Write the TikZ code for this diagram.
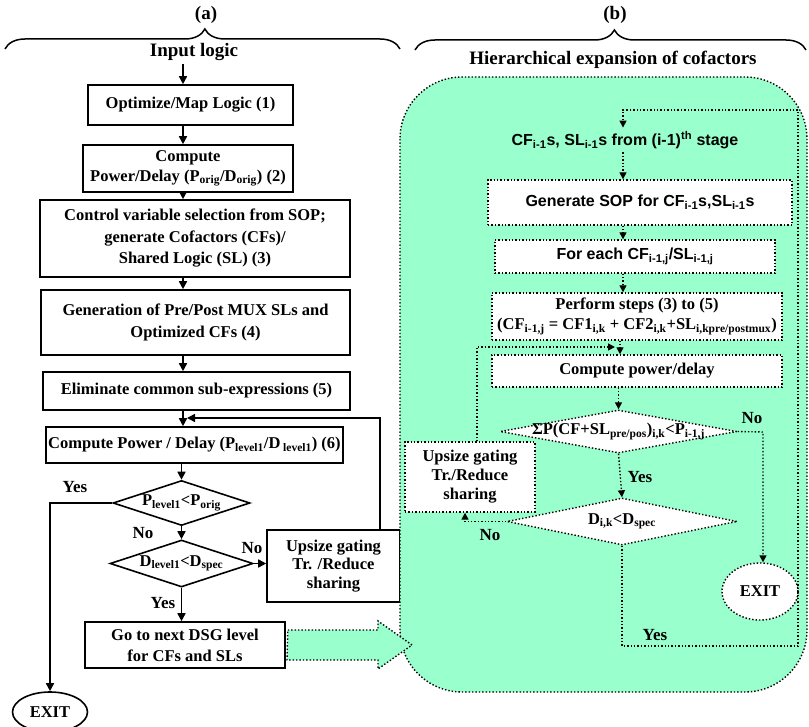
\documentclass[tikz,border=0pt]{standalone}
\usepackage{fontspec}
\setmainfont{Liberation Serif}
\newfontfamily\arialf{Liberation Sans}
\usetikzlibrary{arrows.meta,shapes.geometric,decorations.pathreplacing}
\definecolor{mint}{RGB}{153,255,204}
\newcommand{\sbs}[1]{\textsubscript{#1}}
\newcommand{\sps}[1]{\textsuperscript{#1}}
\begin{document}
\begin{tikzpicture}[x=1pt,y=-1pt,
  every node/.style={font=\fontsize{16.5}{20}\selectfont\bfseries},
  big/.style={font=\fontsize{19}{22}\selectfont\bfseries},
  sansf/.style={font=\fontsize{16}{20}\selectfont\bfseries\arialf},
  lbl/.style={font=\fontsize{17}{20}\selectfont\bfseries},
  sbox/.style={draw, line width=1.6pt, align=center, inner sep=0pt},
  sdia/.style={draw, diamond, line width=1.6pt, inner sep=0pt},
  sarr/.style={line width=1.6pt, -{Triangle[width=8pt,length=8pt]}},
  sline/.style={line width=1.6pt},
  dbox/.style={draw, fill=white, dotted, line width=1.4pt, align=center, inner sep=0pt},
  ddia/.style={draw, diamond, fill=white, dotted, line width=1.4pt, inner sep=0pt},
  darr/.style={dotted, line width=1.4pt, -{Triangle[width=7pt,length=7pt]}},
  dline/.style={dotted, line width=1.4pt},
  bracest/.style={line width=1.5pt, decorate, decoration={brace, amplitude=20pt}},
]
\useasboundingbox (0,0) rectangle (809,727);

% ---------------- panel (a) ----------------
\node[big] (la) at (206,15) {(a)};
\draw[bracest, decoration={aspect=0.506}] (5,49) -- (400,49);
\node[big] (ta) at (194,52) {Input logic};
\coordinate (ax) at (183,0);

\node[sbox, minimum width=205pt, minimum height=40pt] (b1) at (190.5,105) {Optimize/Map Logic (1)};
\node[sbox, minimum width=210pt, minimum height=47pt] (b2) at (188,168.5) {Compute\\ Power/Delay (P\sbs{orig}/D\sbs{orig}) (2)};
\node[sbox, minimum width=310pt, minimum height=77pt, font=\fontsize{16.5}{21.5}\selectfont\bfseries] (b3) at (195,238.5) {Control variable selection from SOP;\\ generate Cofactors (CFs)/\\ Shared Logic (SL) (3)};
\node[sbox, minimum width=309pt, minimum height=65pt, font=\fontsize{16.5}{21.5}\selectfont\bfseries] (b4) at (195.5,322.5) {Generation of Pre/Post MUX SLs and\\ Optimized CFs (4)};
\node[sbox, minimum width=307pt, minimum height=38pt] (b5) at (196.5,391) {Eliminate common sub-expressions (5)};
\node[sbox, minimum width=297pt, minimum height=36pt] (b6) at (194.5,445) {Compute Power / Delay (P\sbs{level1}/D\,\sbs{level1}) (6)};
\node[sdia, minimum width=137pt, minimum height=45pt] (d1) at (181.5,503) {\makebox[0pt]{P\sbs{level1}<P\sbs{orig}}};
\node[sdia, minimum width=143pt, minimum height=47pt] (d2) at (181.5,563.5) {\makebox[0pt]{D\sbs{level1}<D\sbs{spec}}};
\node[sbox, minimum width=133pt, minimum height=72pt, font=\fontsize{16.5}{18.5}\selectfont\bfseries] (upa) at (333.5,566) {Upsize gating\\ Tr. /Reduce\\ sharing};
\node[sbox, minimum width=200pt, minimum height=46pt, font=\fontsize{16.5}{21}\selectfont\bfseries] (go) at (185,645) {Go to next DSG level\\ for CFs and SLs};
\node[draw, ellipse, line width=1.6pt, minimum width=75pt, minimum height=40pt, inner sep=0pt] (exa) at (50,712) {EXIT};

\node[lbl] (ya1) at (75,487) {Yes};
\node[lbl] (na1) at (143,533) {No};
\node[lbl] (na2) at (252,548) {No};
\node[lbl] (ya2) at (163,603) {Yes};

\draw[sarr] (ta.south -| ax) -- (b1.north -| ax);
\draw[sarr] (b1.south -| ax) -- (b2.north -| ax);
\draw[sarr] (b2.south -| ax) -- (b3.north -| ax);
\draw[sarr] (b3.south -| ax) -- (b4.north -| ax);
\draw[sarr] (b4.south -| ax) -- (b5.north -| ax);
\draw[sarr] (b5.south -| ax) -- (b6.north -| ax);
\draw[sarr] (b6.south -| d1.north) -- (d1.north);
\draw[sarr] (d1.south) -- (d2.north);
\draw[sarr] (d2.east) -- (upa.west |- d2.east);
\draw[sarr] (d2.south) -- (go.north -| d2.south);
\coordinate (lpa) at (380,418);
\coordinate (aha) at (187,418);
\draw[sarr] (upa.north -| lpa) -- (lpa) -- (aha);
\coordinate (exl) at (50,503);
\draw[sarr] (d1.west) -- (exl) -- (exa.north);

% ---------------- panel (b) ----------------
\node[big] (lb) at (615,15) {(b)};
\draw[bracest, decoration={aspect=0.51}] (415,50) -- (806,50);
\node[big] (tb) at (613,60) {Hierarchical expansion of cofactors};

\draw[dline, fill=mint, rounded corners=62pt] (400,77) rectangle (807,692);

\node[sansf] (cfs) at (625,140) {CF\sbs{i-1}s, SL\sbs{i-1}s from (i-1)\sps{th} stage};
\node[dbox, sansf, minimum width=304pt, minimum height=45pt] (gen) at (640,202.5) {Generate SOP for CF\sbs{i-1}s,SL\sbs{i-1}s};
\node[dbox, sansf, minimum width=280pt, minimum height=33pt] (fe) at (635,256.5) {For each CF\sbs{i-1,j}/SL\sbs{i-1,j}};
\node[dbox, minimum width=290pt, minimum height=47pt, font=\fontsize{16.5}{20}\selectfont\bfseries] (pf) at (637,316.5) {Perform steps (3) to (5)\\ (CF\sbs{i-1,j} = CF1\sbs{i,k} + CF2\sbs{i,k}+SL\sbs{i,kpre/postmux})};
\node[dbox, minimum width=290pt, minimum height=32pt] (cp) at (637,371) {Compute power/delay};
\node[ddia, minimum width=237pt, minimum height=43pt] (d3) at (618.5,431.5) {\makebox[0pt]{ΣP(CF+SL\sbs{pre/pos})\sbs{i,k}<P\sbs{i-1,j}}};
\node[ddia, minimum width=230pt, minimum height=47pt] (d4) at (622,521.5) {\makebox[0pt]{D\sbs{i,k}<D\sbs{spec}}};
\node[dbox, minimum width=130pt, minimum height=70pt, font=\fontsize{16.5}{19}\selectfont\bfseries] (upb) at (470,477) {Upsize gating\\ Tr./Reduce\\ sharing};
\node[draw, ellipse, dotted, fill=white, line width=1.4pt, minimum width=76pt, minimum height=57pt, inner sep=0pt] (exb) at (760,591.5) {EXIT};

\node[lbl] (nb1) at (752,418) {No};
\node[lbl] (yb1) at (640,477) {Yes};
\node[lbl] (nb2) at (490,535) {No};
\node[lbl] (yb2) at (655,635) {Yes};

\coordinate (bx) at (623,0);
\coordinate (cx) at (620,0);
\coordinate (rtop) at (798,110);
\coordinate (rbot) at (798,646);
\coordinate (ltop) at (623,110);
\draw[darr] (d4.south) -- (d4.south |- rbot) -- (rbot) -- (rtop) -- (ltop) -- (cfs.north -| ltop);
\draw[darr] (cfs.south -| bx) -- (gen.north -| bx);
\draw[darr] (gen.south -| bx) -- (fe.north -| bx);
\draw[darr] (fe.south -| bx) -- (pf.north -| bx);
\draw[darr] (pf.south -| cx) -- (cp.north -| cx);
\draw[darr] (cp.south -| d3.north) -- (d3.north);
\draw[darr] (d3.south) -- (d4.north);
\coordinate (r3) at (763,432);
\draw[darr] (d3.east) -- (r3) -- (exb.north -| r3);
\coordinate (l4) at (465,521.5);
\draw[darr] (d4.west) -- (l4) -- (upb.south -| l4);
\coordinate (lpb) at (477,347);
\coordinate (ahb) at (615,347);
\draw[darr] (upb.north -| lpb) -- (lpb) -- (ahb);

% big arrow from (a) to (b)
\draw[dline, fill=mint] (go.east) ++(2,-15) coordinate (ba1) -- (378,630) -- (378,621) -- (412,645) -- (378,669) -- (378,660) -- (287,660) -- cycle;
\end{tikzpicture}
\end{document}
